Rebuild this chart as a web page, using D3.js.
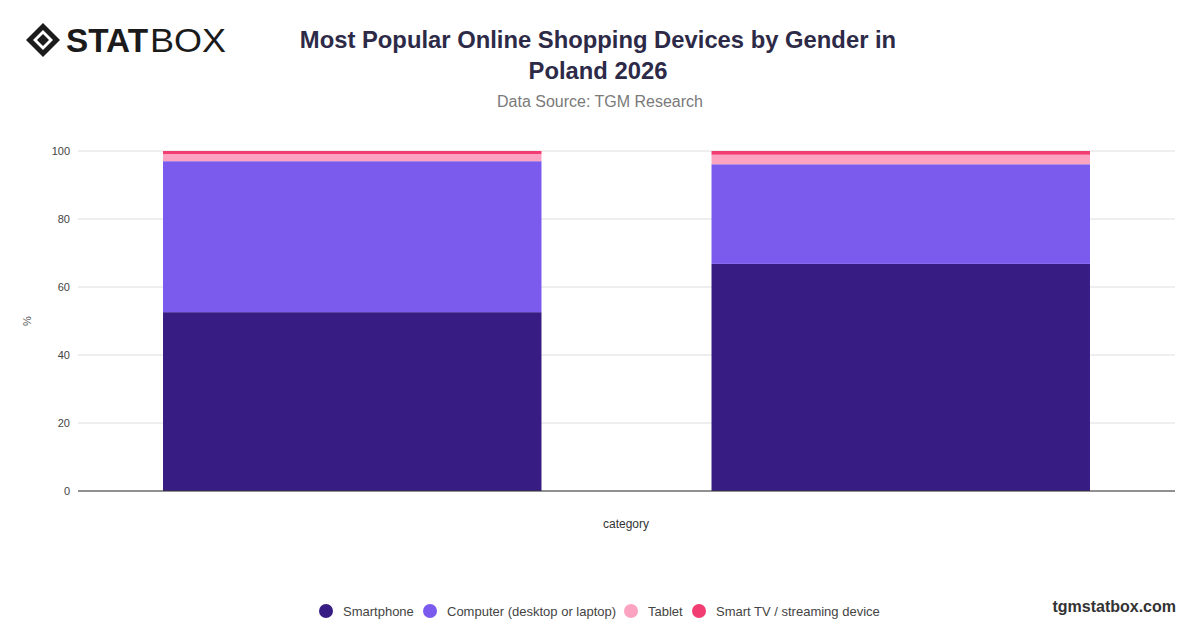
<!DOCTYPE html>
<html>
<head>
<meta charset="utf-8">
<script src="https://cdn.jsdelivr.net/npm/d3@7"></script>
<style>
  body { margin: 0; background: #fff; }
  text { font-family: 'Liberation Sans', Arial, sans-serif; }
</style>
</head>
<body>
<div id="chart"></div>
<script>
const categories = ['Female', 'Male']
const seriesNames = ['Smartphone', 'Computer (desktop or laptop)', 'Tablet', 'Smart TV / streaming device']
const smartphone = [52.6, 66.8]
const computer = [44.4, 29.3]
const tablet = [2.1, 2.8]
const smartTv = [0.9, 1.1]
const yTicks = [0, 20, 40, 60, 80, 100]
const colors = ['#371d83', '#7b5bee', '#fca3c1', '#f23d72']

const width = 1200
const height = 628
const margin = { top: 151, right: 25, bottom: 137, left: 78 }

const rows = categories.map((c, i) => ({
  category: c,
  [seriesNames[0]]: smartphone[i],
  [seriesNames[1]]: computer[i],
  [seriesNames[2]]: tablet[i],
  [seriesNames[3]]: smartTv[i]
}))

const svg = d3.select('#chart').append('svg')
  .attr('width', width)
  .attr('height', height)

// logo
const logo = svg.append('g').attr('transform', 'translate(43, 40)')
logo.append('path')
  .attr('d', 'M0,-17 L17,0 L0,17 L-17,0 Z')
  .attr('fill', '#1b1b1b')
logo.append('path')
  .attr('d', 'M0,-10 L10,0 L0,10 L-10,0 Z')
  .attr('fill', '#fff')
logo.append('path')
  .attr('d', 'M0,-6 L6,0 L0,6 L-6,0 Z')
  .attr('fill', '#1b1b1b')
svg.append('text')
  .attr('x', 66).attr('y', 52)
  .attr('font-family', 'Inter, sans-serif')
  .attr('font-size', 34).attr('font-weight', 900)
  .attr('textLength', 82).attr('lengthAdjust', 'spacingAndGlyphs')
  .attr('fill', '#1b1b1b')
  .text('STAT')
svg.append('text')
  .attr('x', 150).attr('y', 52)
  .attr('font-family', 'Inter, sans-serif')
  .attr('font-size', 34).attr('font-weight', 300)
  .attr('textLength', 76).attr('lengthAdjust', 'spacingAndGlyphs')
  .attr('fill', '#1b1b1b')
  .text('BOX')

// titles
const title = svg.append('text')
  .attr('text-anchor', 'middle')
  .attr('font-family', 'Inter, sans-serif')
  .attr('font-size', 23.8).attr('font-weight', 700)
  .attr('fill', '#2d2a48')
title.append('tspan').attr('x', 598).attr('y', 48).text('Most Popular Online Shopping Devices by Gender in')
title.append('tspan').attr('x', 598).attr('y', 79).text('Poland 2026')
svg.append('text')
  .attr('x', 600).attr('y', 107)
  .attr('text-anchor', 'middle')
  .attr('font-size', 16)
  .attr('fill', '#7a7a7a')
  .text('Data Source: TGM Research')

const xScale = d3.scaleBand()
  .domain(categories)
  .range([margin.left, width - margin.right])
  .paddingInner(0.31)
  .paddingOuter(0.155)

const yScale = d3.scaleLinear()
  .domain([0, 100])
  .range([height - margin.bottom, margin.top])

// grid
svg.append('g')
  .selectAll('line')
  .data(yTicks)
  .join('line')
  .attr('x1', margin.left)
  .attr('x2', width - margin.right)
  .attr('y1', d => yScale(d))
  .attr('y2', d => yScale(d))
  .attr('stroke', '#dedede')
  .attr('stroke-width', 1)

const stack = d3.stack().keys(seriesNames)
const series = stack(rows)

svg.append('g')
  .selectAll('g')
  .data(series)
  .join('g')
  .attr('fill', (d, i) => colors[i])
  .selectAll('rect')
  .data(d => d)
  .join('rect')
  .attr('x', d => xScale(d.data.category))
  .attr('width', xScale.bandwidth())
  .attr('y', d => yScale(d[1]))
  .attr('height', d => yScale(d[0]) - yScale(d[1]))

// axes
const yAxis = svg.append('g')
  .attr('transform', `translate(${margin.left}, 0)`)
  .call(d3.axisLeft(yScale).tickValues(yTicks).tickSize(0).tickPadding(8))
yAxis.select('.domain').remove()
yAxis.selectAll('text')
  .attr('font-family', '"Liberation Sans", Arial, sans-serif')
  .attr('font-size', 11)
  .attr('fill', '#444')

svg.append('line')
  .attr('x1', margin.left)
  .attr('x2', width - margin.right)
  .attr('y1', yScale(0))
  .attr('y2', yScale(0))
  .attr('stroke', '#333')
  .attr('stroke-width', 1)

svg.append('text')
  .attr('transform', `translate(31, 321) rotate(-90)`)
  .attr('text-anchor', 'middle')
  .attr('font-size', 11)
  .attr('fill', '#555')
  .text('%')

svg.append('text')
  .attr('x', 626).attr('y', 528)
  .attr('text-anchor', 'middle')
  .attr('font-size', 12)
  .attr('fill', '#333')
  .text('category')

// legend
const legendX = [326, 430, 631, 699]
const legend = svg.append('g')
  .selectAll('g')
  .data(seriesNames)
  .join('g')
  .attr('transform', (d, i) => `translate(${legendX[i]}, 611)`)
legend.append('circle')
  .attr('r', 7)
  .attr('fill', (d, i) => colors[i])
legend.append('text')
  .attr('x', 17).attr('y', 4.5)
  .attr('font-size', 13)
  .attr('fill', '#444')
  .text(d => d)

svg.append('text')
  .attr('x', 1176).attr('y', 612)
  .attr('text-anchor', 'end')
  .attr('font-size', 16).attr('font-weight', 700)
  .attr('fill', '#333')
  .text('tgmstatbox.com')
</script>
</body>
</html>
